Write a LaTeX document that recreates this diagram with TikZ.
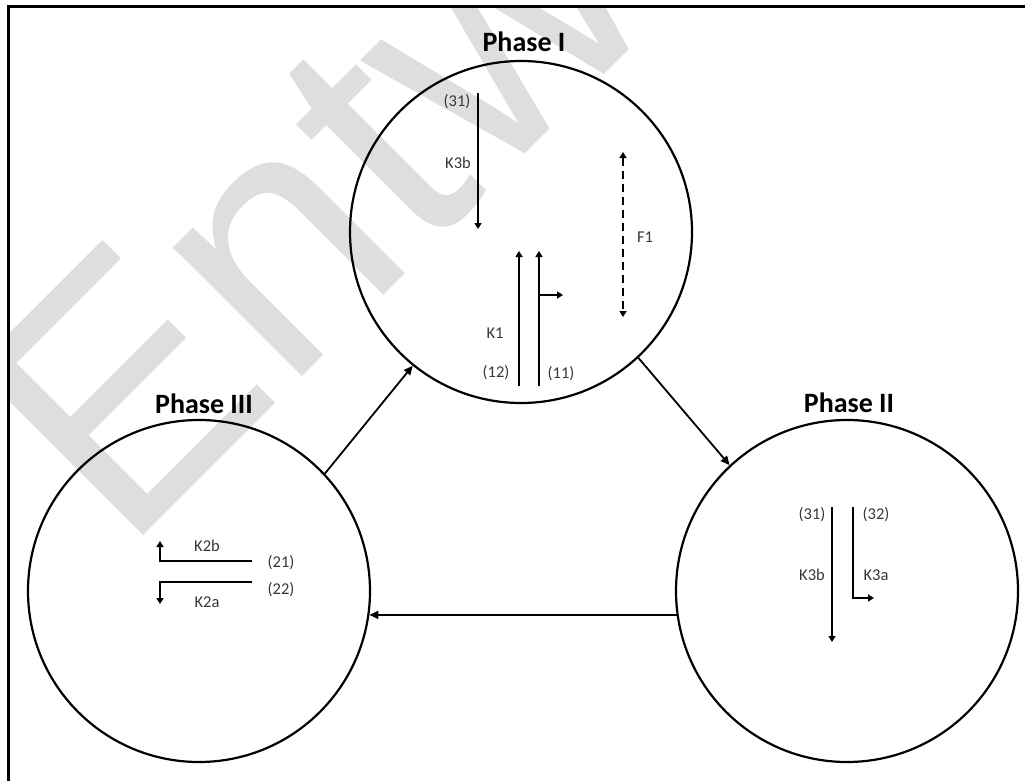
\documentclass[tikz,border=0pt]{standalone}
\usepackage{fontspec}
\setmainfont{Carlito}
\newfontfamily\wmfont{Liberation Sans}
\usetikzlibrary{arrows.meta}
\definecolor{wmgray}{RGB}{222,222,222}
\definecolor{lblgray}{RGB}{55,55,55}
\tikzset{
  phasecircle/.style={circle, draw, line width=2.2pt, minimum size=342pt, inner sep=0pt},
  phasetitle/.style={font=\bfseries\fontsize{28}{28}\selectfont, anchor=base, inner sep=0pt},
  lbl/.style={font=\fontsize{16.5}{16.5}\selectfont, text=lblgray, inner sep=0pt},
  conn/.style={line width=1.8pt, -{Triangle[length=9pt,width=8pt]}},
  inarrow/.style={line width=1.8pt, -{Triangle[length=6pt,width=7pt]}},
  dblarrow/.style={line width=1.8pt, dash pattern=on 8pt off 5pt, {Triangle[length=6pt,width=7pt]}-{Triangle[length=6pt,width=7pt]}},
}
\begin{document}
\begin{tikzpicture}[x=1pt,y=-1pt]
\useasboundingbox (0,0) rectangle (1025,781);
% watermark
\begin{scope}
  \clip (8.5,6.5) rectangle (1025,781);
  \node[anchor=base west, inner sep=0pt, rotate=45, text=wmgray, font=\wmfont\fontsize{345}{345}\selectfont] (wm) at (123,556) {Entw};
\end{scope}
% frame
\draw[line width=3pt] (1025,6.5) -- (8.5,6.5) -- (8.5,781);
% phases
\node[phasecircle] (p1) at (521,232) {};
\node[phasecircle] (p2) at (847,591) {};
\node[phasecircle] (p3) at (199,591) {};
\node[phasetitle] (t1) at (524,52) {Phase I};
\node[phasetitle] (t2) at (849,412) {Phase II};
\node[phasetitle] (t3) at (204,413) {Phase III};
% connectors
\draw[conn] (p3.43) -- (p1.231);
\draw[conn] (p1.313) -- (p2.133);
\draw[conn] (p2.188) -- (p3.352);
% Phase I contents
\coordinate (a1s) at (478,93);  \coordinate (a1e) at (478,229);
\coordinate (k12s) at (519,386); \coordinate (k12e) at (519,251);
\coordinate (k11s) at (539,386); \coordinate (k11e) at (539,251);
\coordinate (k11b) at (539,295); \coordinate (k11t) at (563,295);
\coordinate (f1s) at (623,152); \coordinate (f1e) at (623,317);
\draw[inarrow] (a1s) -- (a1e);
\draw[inarrow] (k12s) -- (k12e);
\draw[inarrow] (k11s) -- (k11e);
\draw[inarrow] (k11b) -- (k11t);
\draw[dblarrow] (f1s) -- (f1e);
\node[lbl] (l31a) at (457,102) {(31)};
\node[lbl] (lk3ba) at (458,163) {K3b};
\node[lbl] (lk1) at (495,333) {K1};
\node[lbl] (l12) at (496,373) {(12)};
\node[lbl] (l11) at (561,374) {(11)};
\node[lbl] (lf1) at (645,237) {F1};
% Phase II contents
\coordinate (b1s) at (832,507); \coordinate (b1e) at (832,642);
\coordinate (b2s) at (853,507); \coordinate (b2c) at (853,598); \coordinate (b2e) at (874,598);
\draw[inarrow] (b1s) -- (b1e);
\draw[inarrow] (b2s) -- (b2c) -- (b2e);
\node[lbl] (l31b) at (812,515) {(31)};
\node[lbl] (lk3bb) at (812,575) {K3b};
\node[lbl] (l32) at (876,515) {(32)};
\node[lbl] (lk3a) at (876,575) {K3a};
% Phase III contents
\coordinate (c1s) at (252,561); \coordinate (c1c) at (160,561); \coordinate (c1e) at (160,541);
\coordinate (c2s) at (252,582); \coordinate (c2c) at (160,582); \coordinate (c2e) at (160,604);
\draw[inarrow] (c1s) -- (c1c) -- (c1e);
\draw[inarrow] (c2s) -- (c2c) -- (c2e);
\node[lbl] (lk2b) at (207,546) {K2b};
\node[lbl] (l21) at (281,563) {(21)};
\node[lbl] (lk2a) at (207,602) {K2a};
\node[lbl] (l22) at (281,590) {(22)};
\end{tikzpicture}
\end{document}
